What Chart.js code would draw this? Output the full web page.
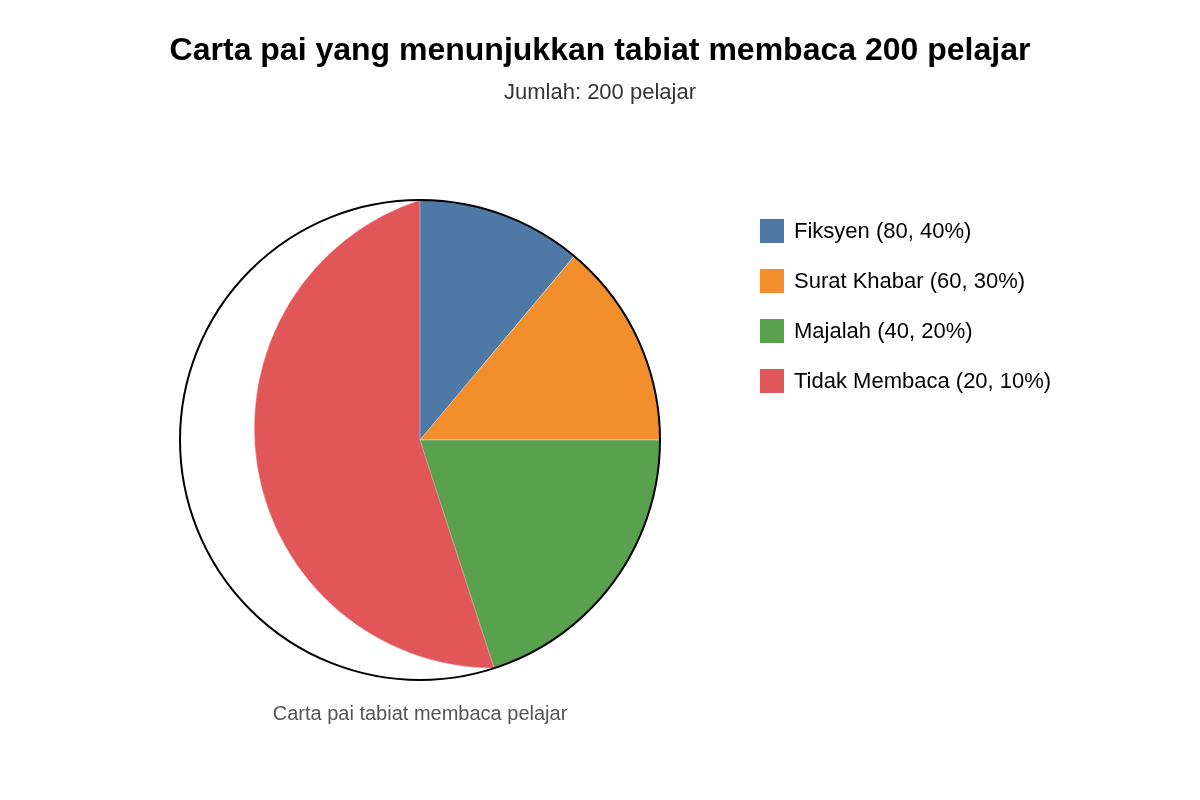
<!DOCTYPE html>
<html>
<head>
<meta charset="utf-8">
<script src="https://cdn.jsdelivr.net/npm/chart.js@4"></script>
<style>
  html, body { margin: 0; padding: 0; background: #ffffff; }
  #wrap { position: relative; width: 1200px; height: 800px; font-family: "Liberation Sans", Arial, sans-serif; }
  #c { position: absolute; left: 0; top: 0; }
  .txt { position: absolute; white-space: nowrap; transform: translate(-50%, -50%); }
  #title { left: 600px; top: 49px; font-size: 32px; font-weight: bold; color: #000; }
  #subtitle { left: 600px; top: 92px; font-size: 22px; color: #333; }
  #caption { left: 420px; top: 713px; font-size: 20px; color: #555; }
  #legend { position: absolute; left: 760px; top: 219px; }
  .item { position: relative; height: 50px; }
  .box { position: absolute; left: 0; top: 0; width: 24px; height: 24px; }
  .lab { position: absolute; left: 34px; top: 12px; transform: translateY(-50%); font-size: 22px; color: #000; white-space: nowrap; }
</style>
</head>
<body>
<div id="wrap">
  <canvas id="c" width="1200" height="800"></canvas>
  <div id="title" class="txt">Carta pai yang menunjukkan tabiat membaca 200 pelajar</div>
  <div id="subtitle" class="txt">Jumlah: 200 pelajar</div>
  <div id="caption" class="txt">Carta pai tabiat membaca pelajar</div>
  <div id="legend"></div>
</div>
<script>
const categories = ['Fiksyen', 'Surat Khabar', 'Majalah', 'Tidak Membaca'];
const counts = [80, 60, 40, 20];
const percents = [40, 30, 20, 10];
// slice sizes as drawn in the picture (degrees)
const sliceDegrees = [40, 50, 72, 198];
const colors = ['#4e79a7', '#f28e2b', '#59a14f', '#e15759'];

// legend
const legend = document.getElementById('legend');
categories.forEach((c, i) => {
  const it = document.createElement('div');
  it.className = 'item';
  const b = document.createElement('div');
  b.className = 'box';
  b.style.background = colors[i];
  const l = document.createElement('div');
  l.className = 'lab';
  l.textContent = c + ' (' + counts[i] + ', ' + percents[i] + '%)';
  it.appendChild(b); it.appendChild(l);
  legend.appendChild(it);
});

// draw order: last (largest) slice first, so the others paint over it
const order = [3, 0, 1, 2];
const chartLabels = order.map(i => categories[i]);
const chartData = order.map(i => sliceDegrees[i]);
const chartColors = order.map(i => colors[i]);

const minorArcPlugin = {
  id: 'minorArc',
  afterDatasetUpdate(chart, args) {
    const meta = chart.getDatasetMeta(args.index);
    meta.data.forEach(el => {
      const span = el.endAngle - el.startAngle;
      if (span <= Math.PI) return;
      const r = el.outerRadius;
      const px = el.x + r * Math.cos(el.startAngle), py = el.y + r * Math.sin(el.startAngle);
      const qx = el.x + r * Math.cos(el.endAngle), qy = el.y + r * Math.sin(el.endAngle);
      const mx = (px + qx) / 2, my = (py + qy) / 2;
      const cx = 2 * mx - el.x, cy = 2 * my - el.y;
      let s = Math.atan2(py - cy, px - cx);
      let e = Math.atan2(qy - cy, qx - cx);
      while (e <= s) e += Math.PI * 2;
      el.x = cx; el.y = cy; el.startAngle = s; el.endAngle = e; el.circumference = e - s;
    });
  },
  afterDatasetsDraw(chart) {
    const ctrl = chart.getDatasetMeta(0).controller;
    const ctx = chart.ctx;
    const area = chart.chartArea;
    const cx = (area.left + area.right) / 2, cy = (area.top + area.bottom) / 2;
    ctx.save();
    ctx.beginPath();
    ctx.arc(cx, cy, ctrl.outerRadius, 0, Math.PI * 2);
    ctx.lineWidth = 2;
    ctx.strokeStyle = '#000';
    ctx.stroke();
    ctx.restore();
  }
};

new Chart(document.getElementById('c'), {
  type: 'pie',
  data: {
    labels: chartLabels,
    datasets: [{
      data: chartData,
      backgroundColor: chartColors,
      borderColor: 'rgba(255,255,255,0.6)',
      borderWidth: 0.6
    }]
  },
  options: {
    responsive: false,
    animation: false,
    events: [],
    rotation: -sliceDegrees[3],
    radius: 240,
    layout: { padding: { left: 0, right: 360, top: 80, bottom: 0 } },
    plugins: { legend: { display: false }, tooltip: { enabled: false }, title: { display: false } }
  },
  plugins: [minorArcPlugin]
});
</script>
</body>
</html>
